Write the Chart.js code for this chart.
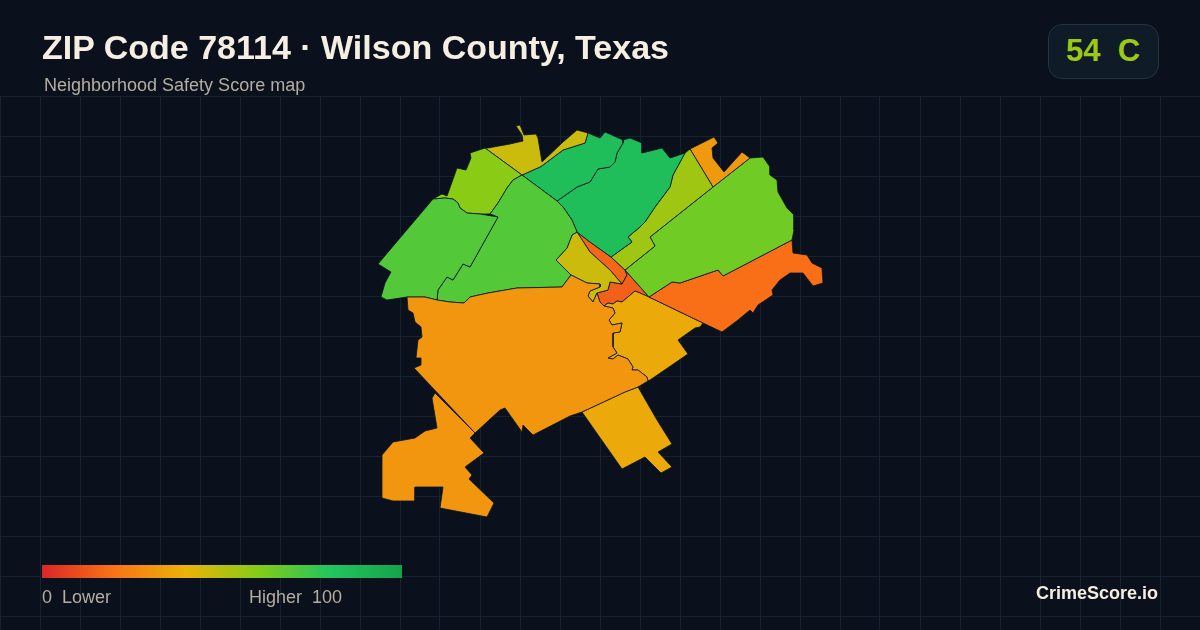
<!DOCTYPE html>
<html lang="en">
<head>
<meta charset="utf-8">
<title>ZIP Code 78114 · Wilson County, Texas</title>
<script src="https://cdn.jsdelivr.net/npm/chart.js@4/dist/chart.umd.min.js"></script>
<style>
    html, body { margin: 0; padding: 0; background: #0a111c; }
    #page { position: relative; width: 1200px; height: 630px; overflow: hidden; background: #0a111c; font-family: "Liberation Sans", Arial, sans-serif; }
    #map { position: absolute; left: 0; top: 0; width: 1200px; height: 630px; }
    .label { position: absolute; white-space: pre; line-height: 1; }
    #title { left: 42px; top: 30px; font-size: 34px; font-weight: 700; color: #f6eee2; }
    #subtitle { left: 44px; top: 76px; font-size: 18px; color: #b5ada0; }
    #badge { position: absolute; left: 1048px; top: 24px; width: 109px; height: 53px; border: 1px solid #26323f; border-radius: 14px; background: #101b28; }
    #grade { left: 1066px; top: 35px; font-size: 31px; font-weight: 700; color: #9bc915; }
    #ramp { position: absolute; left: 42px; top: 565px; width: 360px; height: 13px; }
    #low { left: 42px; top: 588px; font-size: 18px; color: #b5ada0; }
    #high { left: 249px; top: 588px; font-size: 18px; color: #b5ada0; }
    #brand { right: 42px; top: 584px; font-size: 18px; font-weight: 700; color: #f6eee2; }
</style>
</head>
<body>
<div id="page">
    <div id="map"><canvas id="tracts"></canvas></div>
    <div id="title" class="label">ZIP Code 78114 · Wilson County, Texas</div>
    <div id="subtitle" class="label">Neighborhood Safety Score map</div>
    <div id="badge"></div>
    <div id="grade" class="label">54  C</div>
    <div id="ramp"></div>
    <div id="low" class="label">0  Lower</div>
    <div id="high" class="label">Higher  100</div>
    <div id="brand" class="label">CrimeScore.io</div>
</div>
<script>
// score ramp
const rampScores = [0, 20, 40, 60, 80, 100];
const rampColors = ['#dc2626', '#f97316', '#eab308', '#84cc16', '#22c55e', '#16a34a'];

// tract outlines
const bigSouth = [[407,297],[425,297],[437,300],[450,302],[464,303],[470,297],[488,293],[517,288],[562,287],[571,275],[587,283],[600,284],[600,287],[590,291],[588,296],[593,302],[597,293],[600,302],[604,306],[613,308],[615,313],[609,320],[612,325],[622,323],[620,332],[613,333],[613,347],[617,353],[608,358],[613,359],[618,355],[628,359],[633,367],[632,370],[638,370],[647,377],[648,381],[638,387],[625,392],[582,412],[570,416],[533,435],[523,425],[522,432],[505,408],[500,410],[475,433],[414,368],[421,365],[421,358],[416,358],[418,340],[422,337],[421,327],[415,322],[413,313],[408,310]];
const farSouth = [[435,393],[475,433],[470,438],[484,453],[465,467],[472,475],[469,479],[494,503],[487,517],[440,508],[443,487],[415,487],[415,501],[393,501],[382,498],[382,455],[393,442],[415,438],[425,431],[437,428],[432,398]];
const westGreen = [[433,199],[445,198],[453,199],[458,203],[460,208],[467,213],[480,214],[498,217],[470,267],[463,264],[453,280],[447,277],[438,290],[437,300],[425,297],[407,297],[387,300],[381,297],[385,283],[391,272],[378,264]];
const centralGreen = [[522,175],[513,180],[507,188],[498,203],[490,214],[498,217],[470,267],[463,264],[453,280],[447,277],[438,290],[437,300],[450,302],[464,303],[470,297],[488,293],[517,288],[562,287],[571,275],[556,260],[567,248],[572,235],[577,232],[572,220],[563,207],[557,201]];
const northLime = [[485,148],[470,153],[471,158],[466,170],[457,168],[447,196],[442,194],[433,199],[445,198],[453,199],[458,203],[460,208],[467,213],[480,214],[490,214],[498,203],[507,188],[513,180],[522,175]];
const northOlive = [[485,148],[488,148],[510,144],[523,141],[522,135],[516,126],[520,125],[524,135],[536,134],[538,138],[542,162],[563,142],[577,130],[588,133],[585,143],[563,150],[543,165],[540,167],[522,175]];
const northGreen = [[522,175],[540,167],[543,165],[563,150],[585,143],[588,133],[600,138],[605,132],[623,140],[623,143],[617,153],[615,162],[610,167],[598,169],[590,182],[577,187],[557,201]];
const midGreen = [[557,201],[577,187],[590,182],[598,169],[610,167],[615,162],[617,153],[623,143],[623,140],[630,138],[642,143],[642,153],[662,148],[670,158],[685,153],[673,175],[670,187],[655,207],[645,222],[640,227],[628,237],[632,242],[611,257],[590,242],[577,232],[572,220],[563,207]];
const ridgeLime = [[685,153],[690,149],[713,187],[650,237],[655,246],[625,270],[611,257],[632,242],[628,237],[640,227],[645,222],[655,207],[670,187],[673,175]];
const northEast = [[690,149],[714,137],[718,143],[712,148],[713,158],[724,172],[742,152],[750,158],[713,187]];
const eastGreen = [[713,187],[750,158],[763,157],[770,167],[770,175],[777,180],[778,192],[787,208],[794,215],[794,230],[792,240],[723,276],[718,270],[680,283],[672,282],[649,297],[625,270],[655,246],[650,237]];
const eastOrange = [[649,297],[672,282],[680,283],[718,270],[723,276],[792,240],[793,253],[807,255],[812,263],[822,268],[823,283],[813,286],[803,273],[790,273],[780,280],[772,290],[773,295],[758,305],[753,313],[750,310],[738,320],[722,332],[703,323]];
const townOlive = [[577,232],[572,235],[567,248],[556,260],[571,275],[587,283],[600,284],[600,287],[590,291],[588,296],[593,302],[597,293],[608,290],[610,282],[622,284],[610,270],[590,252]];
const townStrip = [[577,232],[590,242],[611,257],[625,270],[627,275],[622,284],[610,270],[590,252]];
const townCore = [[625,270],[649,297],[640,293],[635,291],[622,302],[617,301],[613,304],[608,303],[604,306],[600,302],[597,293],[608,290],[610,282],[622,284],[627,275]];
const southEast = [[649,297],[703,323],[700,327],[695,328],[678,340],[688,354],[650,380],[648,381],[647,377],[638,370],[632,370],[633,367],[628,359],[618,355],[613,359],[608,358],[617,353],[613,347],[613,333],[620,332],[622,323],[612,325],[609,320],[615,313],[613,308],[604,306],[608,303],[613,304],[617,301],[622,302],[635,291],[640,293]];
const southPatch = [[582,412],[625,392],[638,387],[657,420],[672,444],[658,452],[672,467],[661,473],[645,457],[622,469]];

const tractOutlines = [bigSouth, farSouth, westGreen, centralGreen, northLime, northOlive, northGreen, midGreen, ridgeLime, northEast, eastGreen, eastOrange, townOlive, southEast, southPatch, townCore, townStrip];
const tractScores = [31, 31, 70, 70, 59, 46, 84, 84, 55, 32, 64, 19, 46, 37, 37, 15, 17];

function hexToRgb(hex) {
    return [1, 3, 5].map((i) => parseInt(hex.slice(i, i + 2), 16));
}

function scoreColor(score) {
    let i = 0;
    while (i < rampScores.length - 2 && score > rampScores[i + 1]) {
        i += 1;
    }
    const t = (score - rampScores[i]) / (rampScores[i + 1] - rampScores[i]);
    const from = hexToRgb(rampColors[i]);
    const to = hexToRgb(rampColors[i + 1]);
    const mixed = from.map((c, k) => Math.round(c + (to[k] - c) * t));
    return `rgb(${mixed.join(',')})`;
}

document.getElementById('ramp').style.background = `linear-gradient(to right, ${rampColors.join(', ')})`;

const gridColor = '#14232e';

new Chart(document.getElementById('tracts'), {
    type: 'scatter',
    data: {
        datasets: tractOutlines.map((outline, index) => ({
            data: [...outline, outline[0]].map(([x, y]) => ({ x, y })),
            showLine: true,
            fill: 'shape',
            backgroundColor: scoreColor(tractScores[index]),
            borderColor: '#0a1520',
            borderWidth: 0.8,
            borderJoinStyle: 'round',
            pointRadius: 0,
            tension: 0,
        })),
    },
    options: {
        responsive: true,
        maintainAspectRatio: false,
        animation: false,
        layout: { padding: { top: 96 } },
        plugins: {
            legend: { display: false },
            tooltip: { enabled: false },
        },
        scales: {
            x: {
                type: 'linear',
                min: 0,
                max: 1200,
                border: { display: false },
                grid: { color: gridColor, drawTicks: false },
                ticks: { display: false, stepSize: 40 },
            },
            y: {
                type: 'linear',
                reverse: true,
                min: 96,
                max: 630,
                border: { display: false },
                grid: { color: gridColor, drawTicks: false },
                ticks: { display: false },
                afterBuildTicks: (axis) => {
                    const ticks = [];
                    for (let value = 96; value <= 630; value += 40) {
                        ticks.push({ value });
                    }
                    axis.ticks = ticks;
                },
            },
        },
    },
});
</script>
</body>
</html>
